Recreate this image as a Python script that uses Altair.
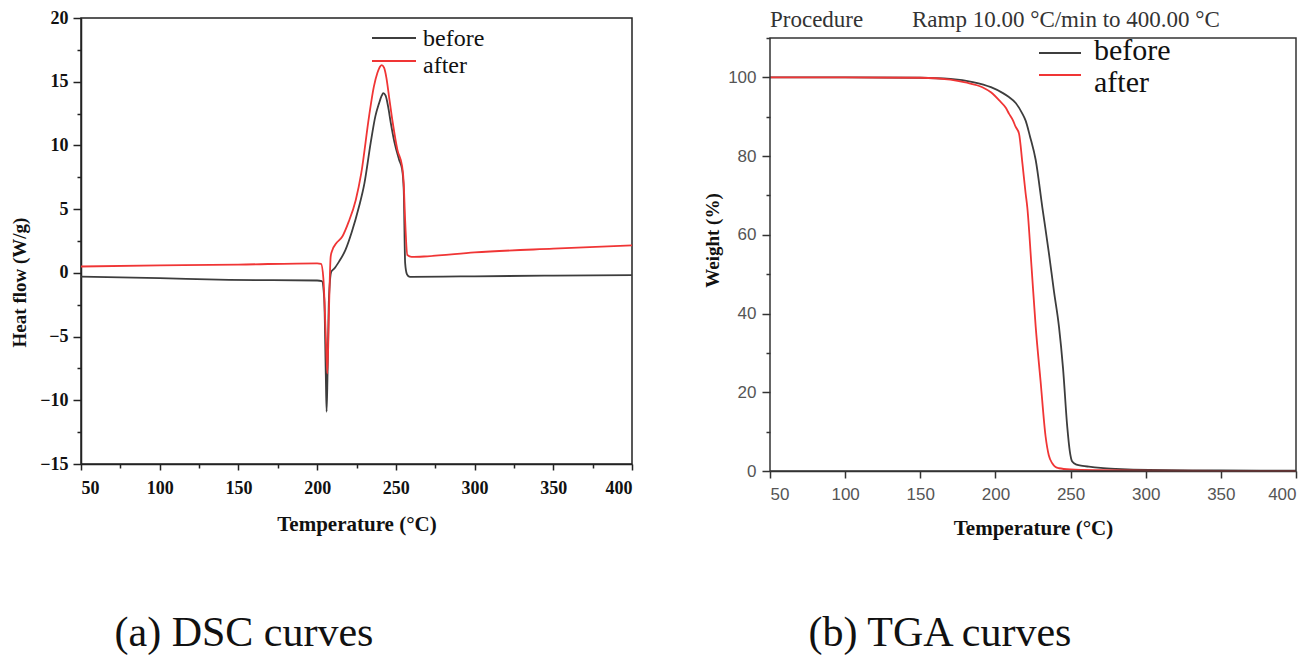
import altair as alt
import pandas as pd

# ---- series names and colours ----
SERIES = ["before", "after"]
COLORS = ["#3d3d3d", "#f03535"]

# ---- DSC: heat flow (W/g) vs temperature (°C) ----
dsc_t_before = [50, 100, 144, 200, 203, 204.5, 205.5, 206, 206.6, 207.5, 209, 211, 214, 218,
                222, 226.6, 230, 234, 237, 239.3, 241, 242, 243.5, 245, 246.8, 249, 252,
                254, 255, 255.9, 257, 258.4, 260, 280, 300, 350, 400]
dsc_before = [-0.3, -0.42, -0.55, -0.6, -0.65, -2.0, -8.0, -10.9, -8.0, -2.0, 0.1, 0.35, 0.9,
              1.8, 3.2, 5.2, 7.0, 10.2, 12.3, 13.3, 13.9, 14.1, 13.9, 13.1, 11.75, 10.3, 8.9,
              8.1, 6.5, 0.76, -0.1, -0.29, -0.32, -0.3, -0.27, -0.22, -0.18]

dsc_t_after = [50, 100, 150, 200, 202.5, 204, 205.5, 206.5, 207.5, 208.6, 209.7, 212, 216,
               220, 224.5, 228, 233, 236, 238.3, 240, 241, 242.5, 244, 245.7, 248, 251, 254,
               255, 255.8, 257.3, 260, 270, 300, 350, 400]
dsc_after = [0.5, 0.58, 0.65, 0.75, 0.7, -0.5, -5.0, -7.9, -3.0, 1.28, 1.8, 2.3, 2.85, 4.0,
             5.7, 7.8, 12.3, 14.6, 15.7, 16.2, 16.3, 16.1, 15.3, 13.8, 11.8, 9.65, 8.35, 7.0,
             4.4, 1.4, 1.25, 1.3, 1.6, 1.9, 2.15]

# ---- TGA: weight (%) vs temperature (°C) ----
tga_t_before = [50, 100, 150, 170, 185, 197, 205, 209, 213.5, 217.9, 220.1, 223, 226.8, 231.2,
                235.6, 239, 242.3, 245, 247.8, 249.5, 251.1, 254, 258, 262.2, 270, 280, 302,
                350, 400]
tga_before = [100, 100, 99.9, 99.6, 98.8, 97.5, 96.0, 95.0, 93.5, 90.8, 89.0, 85.0, 79.0, 67.0,
              55.3, 45.5, 36.6, 26.0, 11.2, 5.0, 2.4, 1.6, 1.3, 1.1, 0.8, 0.55, 0.25, 0.15, 0.1]

tga_t_after = [50, 100, 150, 170, 180, 191.3, 197, 202.4, 207, 209, 211.5, 213.5, 215.7, 218,
               220.1, 221.2, 224, 226.8, 230, 233.4, 235.5, 237.8, 240, 242.3, 250, 270, 300,
               350, 400]
tga_after = [100, 100, 99.9, 99.4, 98.7, 97.5, 96.2, 94.2, 92.2, 90.8, 89.2, 87.4, 85.7, 78.0,
             70.5, 67.0, 52.0, 36.6, 23.0, 8.7, 4.0, 1.95, 1.0, 0.7, 0.4, 0.2, 0.1, 0.05, 0.05]

# ---- axes ----
T_RANGE = [50, 400]
DSC_RANGE = [-15, 20]
TGA_FRAME = [0, 110]      # boxed region of the TGA panel
TGA_SCALE = [0, 115.08]   # scale extends above the box to leave room for the procedure line
x_ticks = list(range(50, 401, 25))
dsc_y_ticks = [v / 2 for v in range(-30, 41, 5)]
tga_y_ticks = list(range(0, 111, 10))

CAPTIONS = ["(a) DSC curves", "(b) TGA curves"]
PROCEDURE = ["Procedure", "Ramp 10.00 °C/min to 400.00 °C"]


def frame(ts, vs, name):
    return pd.DataFrame({"temp": ts, "value": vs, "series": name})


dsc_df = pd.concat([frame(dsc_t_before, dsc_before, SERIES[0]),
                    frame(dsc_t_after, dsc_after, SERIES[1])])
tga_df = pd.concat([frame(tga_t_before, tga_before, SERIES[0]),
                    frame(tga_t_after, tga_after, SERIES[1])])

SERIF = "Liberation Serif"
SANS = "Liberation Sans"
color_scale = alt.Scale(domain=SERIES, range=COLORS)


def one(text):
    return pd.DataFrame({"t": [text]})


def minor_size(step, major, minor):
    return {"condition": {"test": f"datum.value % {step} !== 0", "value": minor}, "value": major}


def label_every(step):
    return f"datum.value % {step} === 0 ? datum.label : ''"


def legend_layers(x0, x1, ys, tx, tys, size):
    layers = []
    for name, col, y, ty in zip(SERIES, COLORS, ys, tys):
        layers.append(alt.Chart(one(name)).mark_rule(color=col, strokeWidth=2).encode(
            x=alt.value(x0), x2=alt.value(x1), y=alt.value(y)))
        layers.append(alt.Chart(one(name)).mark_text(
            align="left", baseline="middle", font=SERIF, fontSize=size, color="#111").encode(
            text="t:N", x=alt.value(tx), y=alt.value(ty)))
    return layers


# ---- (a) DSC panel ----
W1, H1 = 551, 446
dsc_lines = alt.Chart(dsc_df).mark_line(strokeWidth=1.8, interpolate="monotone").encode(
    x=alt.X("temp:Q", scale=alt.Scale(domain=T_RANGE, nice=False),
            axis=alt.Axis(values=x_ticks, labelExpr=label_every(50),
                          tickSize=minor_size(50, 6, 4), title="Temperature (°C)",
                          labelFont=SERIF, labelFontWeight="bold", labelFontSize=18,
                          labelColor="#111", labelPadding=9, titleFont=SERIF,
                          titleFontWeight="bold", titleFontSize=21, titleColor="#111",
                          titlePadding=16, grid=False, domainColor="#222", domainWidth=1.5,
                          tickColor="#222", tickWidth=1.5)),
    y=alt.Y("value:Q", scale=alt.Scale(domain=DSC_RANGE, nice=False),
            axis=alt.Axis(values=dsc_y_ticks, labelExpr=label_every(5),
                          tickSize=minor_size(5, 8, 4), title="Heat flow (W/g)",
                          labelFont=SERIF, labelFontWeight="bold", labelFontSize=18,
                          labelColor="#111", labelPadding=5, titleFont=SERIF,
                          titleFontWeight="bold", titleFontSize=19, titleColor="#111",
                          titleX=-62, titleY=264, titleBaseline="middle", grid=False,
                          domainColor="#222", domainWidth=1.5, tickColor="#222",
                          tickWidth=1.5)),
    color=alt.Color("series:N", scale=color_scale, legend=None),
)
dsc_caption = alt.Chart(one(CAPTIONS[0])).mark_text(
    font=SERIF, fontSize=42, color="#111", baseline="middle").encode(
    text="t:N", x=alt.value(163), y=alt.value(615))

dsc_chart = alt.layer(
    dsc_lines, *legend_layers(291, 335, [20, 43], 342, [21, 48], 24), dsc_caption
).properties(width=W1, height=H1, view=alt.ViewBackground(stroke="#222", strokeWidth=1.5))

# ---- (b) TGA panel ----
W2, H2 = 526, 453
tga_x = alt.X("temp:Q", scale=alt.Scale(domain=T_RANGE, nice=False),
              axis=alt.Axis(values=x_ticks, labelExpr=label_every(50),
                            tickSize=minor_size(50, 7, 4), title="Temperature (°C)",
                            labelFont=SANS, labelFontSize=17, labelColor="#555",
                            labelPadding=8, titleFont=SERIF, titleFontWeight="bold",
                            titleFontSize=21, titleColor="#111", titlePadding=15,
                            grid=False, domainColor="#333", domainWidth=1.5,
                            tickColor="#333", tickWidth=1.5))
tga_y = alt.Y("value:Q", scale=alt.Scale(domain=TGA_SCALE, nice=False),
              axis=alt.Axis(values=tga_y_ticks, labelExpr=label_every(20),
                            tickSize=minor_size(20, 8, 4), title="Weight (%)",
                            labelFont=SANS, labelFontSize=17, labelColor="#555",
                            labelPadding=6, titleFont=SERIF, titleFontWeight="bold",
                            titleFontSize=19, titleColor="#111", titleX=-58, titleY=222,
                            titleBaseline="middle", grid=False, domain=False,
                            tickColor="#333", tickWidth=1.5))
tga_lines = alt.Chart(tga_df).mark_line(strokeWidth=1.8, interpolate="monotone").encode(
    x=tga_x, y=tga_y,
    color=alt.Color("series:N", scale=color_scale, legend=None),
)
# box around the 0-110 % region
tga_box = alt.Chart(one("box")).mark_rect(fill=None, stroke="#333", strokeWidth=1.5).encode(
    x=alt.datum(T_RANGE[0]), x2=alt.datum(T_RANGE[1]),
    y=alt.datum(TGA_FRAME[0]), y2=alt.datum(TGA_FRAME[1]),
)
tga_head = [
    alt.Chart(one(PROCEDURE[0])).mark_text(
        font=SERIF, fontSize=23, color="#333", align="left", baseline="middle").encode(
        text="t:N", x=alt.value(0), y=alt.value(2)),
    alt.Chart(one(PROCEDURE[1])).mark_text(
        font=SERIF, fontSize=23, color="#333", align="left", baseline="middle").encode(
        text="t:N", x=alt.value(142), y=alt.value(2)),
]
tga_caption = alt.Chart(one(CAPTIONS[1])).mark_text(
    font=SERIF, fontSize=42, color="#111", baseline="middle").encode(
    text="t:N", x=alt.value(170), y=alt.value(615))

tga_chart = alt.layer(
    tga_lines, tga_box, *legend_layers(269, 311, [35, 57], 324, [33, 65], 30), *tga_head,
    tga_caption
).properties(width=W2, height=H2, view=alt.ViewBackground(strokeWidth=0))

chart = alt.hconcat(dsc_chart, tga_chart, spacing=66).properties(
    padding={"left": 9, "top": 8, "right": 0, "bottom": 0},
    background="white",
)

chart.save("out.html", embed_options={"renderer": "svg", "actions": False})
